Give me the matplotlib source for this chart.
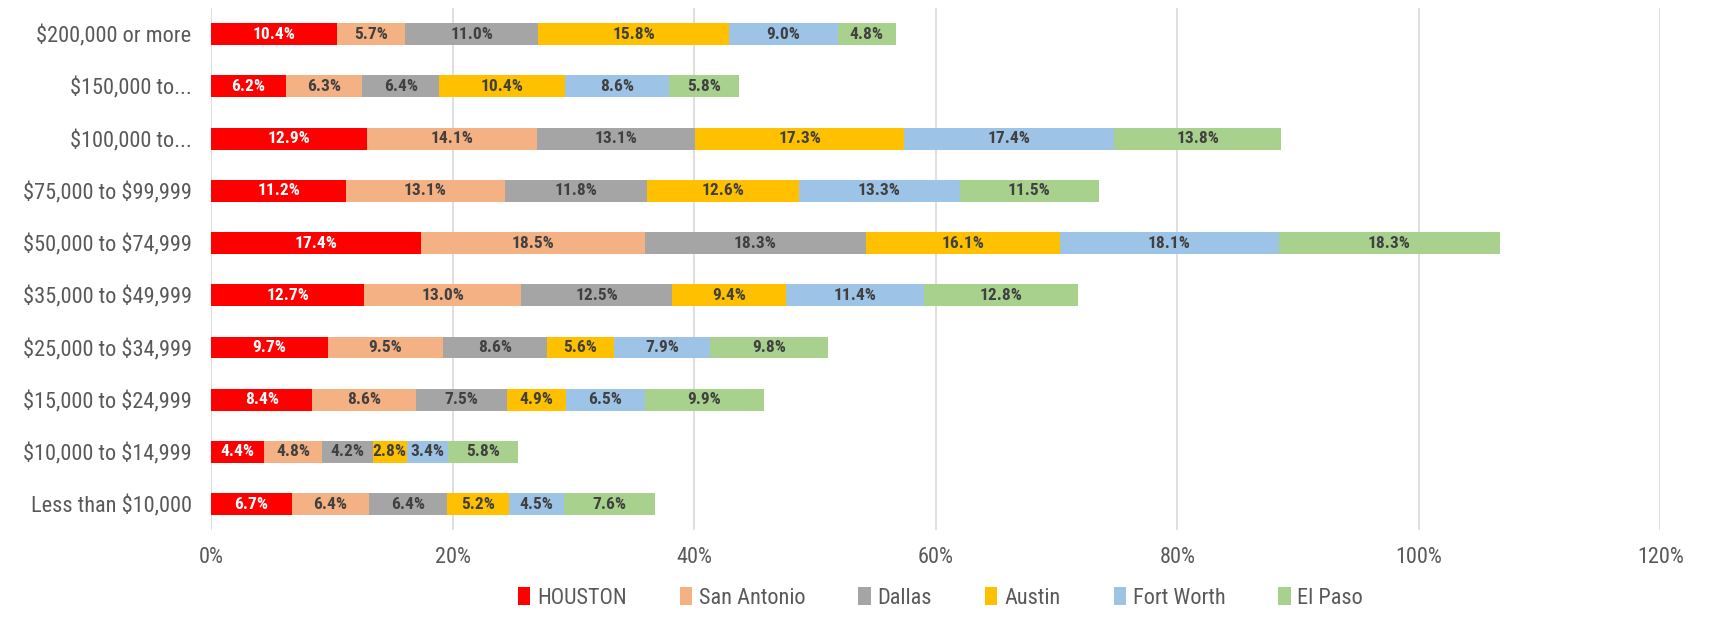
import numpy as np
import matplotlib.pyplot as plt
from matplotlib.ticker import FuncFormatter
from matplotlib import font_manager

names = set(f.name for f in font_manager.fontManager.ttflist)
fams = [f for f in ['Liberation Sans Narrow', 'DejaVu Sans Condensed', 'Roboto Condensed',
                    'Liberation Sans'] if f in names]
plt.rcParams['font.family'] = fams + ['DejaVu Sans']

categories = ['\\$200,000 or more', '\\$150,000 to...', '\\$100,000 to...', '\\$75,000 to \\$99,999',
              '\\$50,000 to \\$74,999', '\\$35,000 to \\$49,999', '\\$25,000 to \\$34,999',
              '\\$15,000 to \\$24,999', '\\$10,000 to \\$14,999', 'Less than \\$10,000']
cities = ['HOUSTON', 'San Antonio', 'Dallas', 'Austin', 'Fort Worth', 'El Paso']
houston = [10.4, 6.2, 12.9, 11.2, 17.4, 12.7, 9.7, 8.4, 4.4, 6.7]
san_antonio = [5.7, 6.3, 14.1, 13.1, 18.5, 13.0, 9.5, 8.6, 4.8, 6.4]
dallas = [11.0, 6.4, 13.1, 11.8, 18.3, 12.5, 8.6, 7.5, 4.2, 6.4]
austin = [15.8, 10.4, 17.3, 12.6, 16.1, 9.4, 5.6, 4.9, 2.8, 5.2]
fort_worth = [9.0, 8.6, 17.4, 13.3, 18.1, 11.4, 7.9, 6.5, 3.4, 4.5]
el_paso = [4.8, 5.8, 13.8, 11.5, 18.3, 12.8, 9.8, 9.9, 5.8, 7.6]

series = [houston, san_antonio, dallas, austin, fort_worth, el_paso]
colors = ['#FF0000', '#F4B183', '#A5A5A5', '#FFC000', '#9DC3E6', '#A9D18E']
text_colors = ['white', '#404040', '#404040', '#404040', '#404040', '#404040']

fig = plt.figure(figsize=(17.1, 6.18), dpi=100)
ax = fig.add_axes([0.1234, 0.142, 0.8476, 0.845])

y = np.arange(len(categories))[::-1]
left = np.zeros(len(categories))
for vals, name, c, tc in zip(series, cities, colors, text_colors):
    vals = np.array(vals)
    ax.barh(y, vals, 0.42, left=left, color=c, label=name, zorder=3)
    for yi, l, v in zip(y, left, vals):
        ax.text(l + v / 2, yi, '%.1f%%' % v, ha='center', va='center',
                color=tc, fontsize=12.5, fontweight='bold', zorder=4)
    left += vals

ax.set_xlim(0, 120)
ax.set_ylim(-0.5, len(categories) - 0.5)
ax.set_xticks(np.arange(0, 121, 20))
ax.xaxis.set_major_formatter(FuncFormatter(lambda v, p: '%d%%' % v))
ax.set_yticks(y)
ax.set_yticklabels(categories)
ax.grid(axis='x', color='#D9D9D9', linewidth=1.2, zorder=0)
for s in ax.spines.values():
    s.set_visible(False)
ax.tick_params(length=0, labelsize=16, colors='#595959')
ax.tick_params(axis='y', pad=14)
ax.tick_params(axis='x', pad=12)

ax.legend(loc='center', bbox_to_anchor=(0.55, 0.033), bbox_transform=fig.transFigure,
          ncol=6, frameon=False, fontsize=16, labelcolor='#595959',
          handlelength=0.55, handleheight=0.9, handletextpad=0.3, columnspacing=2.4)

fig.savefig('out.png', dpi=100)
